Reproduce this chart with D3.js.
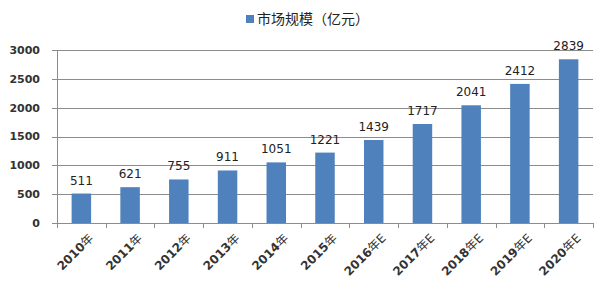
<!DOCTYPE html>
<html>
<head>
<meta charset="utf-8">
<script src="https://cdn.jsdelivr.net/npm/d3@7"></script>
<style>
  body { margin: 0; background: #fff; }
  text { font-family: "DejaVu Sans", "Noto Sans CJK SC", sans-serif; }
  .legend { font-family: "Noto Sans CJK SC", sans-serif; }
</style>
</head>
<body>
<div id="chart"></div>
<script>
// categories and values
var years = ['2010年', '2011年', '2012年', '2013年', '2014年', '2015年',
             '2016年E', '2017年E', '2018年E', '2019年E', '2020年E'];
var marketSize = [511, 621, 755, 911, 1051, 1221, 1439, 1717, 2041, 2412, 2839];
var yTicks = [0, 500, 1000, 1500, 2000, 2500, 3000];
var seriesName = '市场规模（亿元）';

var w = 600,
    h = 285,
    padLeft = 57,
    padRight = 593,
    padTop = 50,
    padBottom = 223,
    barColor = '#4f81bd';

var svg = d3.select('#chart')
  .append('svg')
  .attr('width', w)
  .attr('height', h);

var x = d3.scaleBand()
  .domain(years)
  .range([padLeft, padRight])
  .paddingInner(0.6)
  .paddingOuter(0.3);

var y = d3.scaleLinear()
  .domain([0, 3000])
  .range([padBottom, padTop]);

// gridlines
svg.selectAll('line.grid')
  .data(yTicks)
  .enter()
  .append('line')
  .attr('x1', padLeft - 5)
  .attr('x2', padRight)
  .attr('y1', function(d){ return Math.round(y(d)) + 0.5; })
  .attr('y2', function(d){ return Math.round(y(d)) + 0.5; })
  .attr('stroke', '#8c8c8c')
  .attr('stroke-width', 1);

// y tick labels
svg.selectAll('text.ytick')
  .data(yTicks)
  .enter()
  .append('text')
  .attr('x', padLeft - 17)
  .attr('y', function(d){ return y(d); })
  .attr('dy', '0.35em')
  .attr('text-anchor', 'end')
  .attr('font-size', '11px')
  .attr('font-weight', 'bold')
  .attr('fill', '#333')
  .text(function(d){ return d; });

// y axis line
svg.append('line')
  .attr('x1', padLeft + 0.5).attr('x2', padLeft + 0.5)
  .attr('y1', padTop).attr('y2', padBottom + 5)
  .attr('stroke', '#8c8c8c');

// x axis ticks (between categories)
var xTickPos = d3.range(years.length + 1).map(function(i){ return padLeft + i * (padRight - padLeft) / years.length; });
svg.selectAll('line.xtick')
  .data(xTickPos)
  .enter()
  .append('line')
  .attr('x1', function(d){ return Math.round(d) + 0.5; })
  .attr('x2', function(d){ return Math.round(d) + 0.5; })
  .attr('y1', padBottom)
  .attr('y2', padBottom + 5)
  .attr('stroke', '#8c8c8c');

// bars
svg.selectAll('rect.bar')
  .data(marketSize)
  .enter()
  .append('rect')
  .attr('x', function(d, i){ return x(years[i]); })
  .attr('y', function(d){ return y(d); })
  .attr('width', x.bandwidth())
  .attr('height', function(d){ return padBottom - y(d); })
  .attr('fill', barColor);

// value labels
svg.selectAll('text.value')
  .data(marketSize)
  .enter()
  .append('text')
  .attr('x', function(d, i){ return x(years[i]) + x.bandwidth() / 2; })
  .attr('y', function(d){ return y(d) - 9; })
  .attr('text-anchor', 'middle')
  .attr('font-size', '12px')
  .attr('fill', '#222')
  .text(function(d){ return d; });

// x labels rotated; digits bold, the rest lighter like the reference
var xl = svg.selectAll('text.xlabel')
  .data(years)
  .enter()
  .append('text')
  .attr('transform', function(d){
    return 'translate(' + (x(d) + x.bandwidth() / 2 + 7) + ',' + (padBottom + 10) + ') rotate(-45)';
  })
  .attr('text-anchor', 'end')
  .attr('dy', '0.7em')
  .attr('font-size', '12px')
  .attr('fill', '#333');
xl.append('tspan')
  .attr('font-weight', 'bold')
  .text(function(d){ return d.slice(0, 4); });
xl.append('tspan')
  .text(function(d){ return d.slice(4); });

// legend
svg.append('rect')
  .attr('x', 246).attr('y', 15)
  .attr('width', 8).attr('height', 8)
  .attr('fill', barColor);
svg.append('text')
  .attr('class', 'legend')
  .attr('x', 257).attr('y', 19)
  .attr('dy', '0.35em')
  .attr('font-size', '14px')
  .attr('fill', '#222')
  .text(seriesName);
</script>
</body>
</html>
